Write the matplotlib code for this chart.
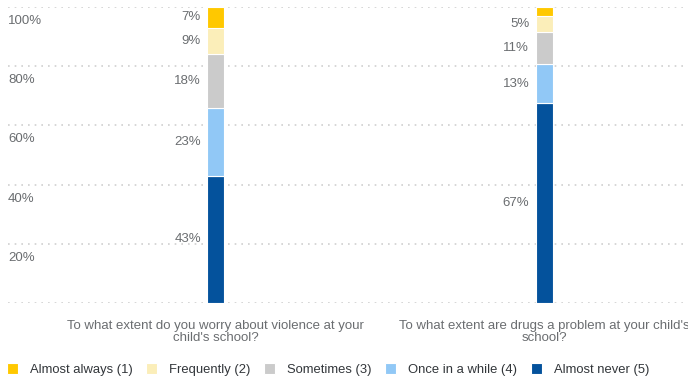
import numpy as np
import matplotlib.pyplot as plt
from matplotlib.transforms import blended_transform_factory, ScaledTranslation

questions = ["To what extent do you worry about violence at your\nchild's school?",
             "To what extent are drugs a problem at your child's\nschool?"]
responses = ["Almost never (5)", "Once in a while (4)", "Sometimes (3)",
             "Frequently (2)", "Almost always (1)"]
almost_never = [43, 67.4]
once_in_a_while = [23, 13.2]
sometimes = [18, 10.8]
frequently = [9, 5.4]
almost_always = [7, 3.2]
colors = ["#04529C", "#91C8F6", "#CBCBCB", "#FBEEB9", "#FFC800"]

series = [almost_never, once_in_a_while, sometimes, frequently, almost_always]
text_color = "#6A6D70"
font = ["Liberation Sans", "DejaVu Sans"]

fig = plt.figure(figsize=(6.88, 3.79), dpi=100)
ax = fig.add_axes([8 / 688, 1 - 303 / 379, 680 / 688, 296 / 379])

x = np.arange(len(questions))
bottom = np.zeros(len(questions))
handles = []
for vals, col, name in zip(series, colors, responses):
    vals = np.array(vals, dtype=float)
    b = ax.bar(x, vals, width=0.052, bottom=bottom, color=col, edgecolor="white",
               linewidth=0.8, label=name, zorder=3)
    handles.append(b)
    for xi, v, b0 in zip(x, vals, bottom):
        if v >= 4:
            ax.annotate(f"{v:.0f}%", (xi - 0.026, b0 + v / 2), xytext=(-4.5, 0),
                        textcoords="offset points", ha="right", va="center",
                        fontsize=9.5, color=text_color, family=font)
    bottom += vals

ax.set_xlim(-0.632, 1.438)
ax.set_ylim(0, 100)
ax.set_yticks([0, 20, 40, 60, 80, 100])
ax.set_xticks([])
ax.tick_params(left=False, labelleft=False)
ax.yaxis.grid(True, linestyle=(0, (1, 3)), color="#CFCFCF", linewidth=1.2, zorder=0)
for s in ax.spines.values():
    s.set_visible(False)

trans = blended_transform_factory(ax.transAxes, ax.transData) + \
    ScaledTranslation(0, -14 / 100, fig.dpi_scale_trans)
for t in [20, 40, 60, 80, 100]:
    ax.text(0, t, f"{t}%", transform=trans, ha="left", va="center",
            fontsize=9.5, color=text_color, family=font)

for xi, q in zip(x, questions):
    ax.text(xi, -5.6, q, ha="center", va="top", fontsize=9.5, color=text_color,
            family=font, linespacing=1.1)

fig.legend(handles[::-1], responses[::-1], loc="center left",
           bbox_to_anchor=(7 / 688, 1 - 369.5 / 379), borderaxespad=0, borderpad=0,
           ncol=5, frameon=False, handlelength=0.85, handleheight=0.95,
           handletextpad=0.9, columnspacing=1.05,
           prop={"family": font, "size": 9.4}, labelcolor="#32363A")

fig.savefig("out.png", dpi=100)
